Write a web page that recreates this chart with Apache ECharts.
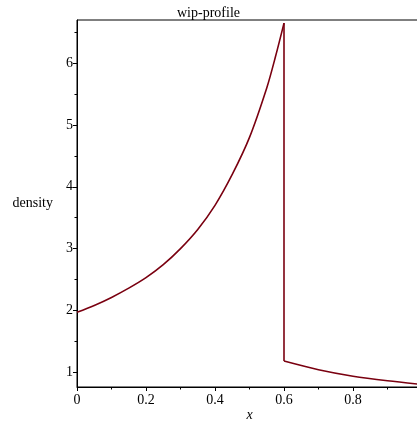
<!DOCTYPE html>
<html>
<head>
<meta charset="utf-8">
<script src="https://cdn.jsdelivr.net/npm/echarts@6/dist/echarts.min.js"></script>
<style>html,body{margin:0;padding:0;background:#fff}#c{width:417px;height:424px}</style>
</head>
<body>
<div id="c"></div>
<script>
const titleText = 'wip-profile';
const xName = 'x';
const yName = 'density';
const xLeft = [0, 0.05, 0.1, 0.15, 0.2, 0.25, 0.3, 0.35, 0.4, 0.45, 0.5, 0.55, 0.575, 0.6];
const yLeft = [1.97, 2.08, 2.21, 2.36, 2.53, 2.74, 3.00, 3.31, 3.70, 4.20, 4.80, 5.60, 6.10, 6.65];
const xRight = [0.6, 0.7, 0.8, 0.9, 1.0];
const yRight = [1.18, 1.04, 0.935, 0.86, 0.80];
const yMajorTicks = [1, 2, 3, 4, 5, 6];
const yMinorTicks = [1.5, 2.5, 3.5, 4.5, 5.5, 6.5];

const lineColor = '#7a0010';
const font = 'Liberation Serif';
const pair = (xs, ys) => xs.map((x, i) => [x, ys[i]]);
const leftData = pair(xLeft, yLeft);
const rightData = pair(xRight, yRight);
const jumpData = [leftData[leftData.length - 1], rightData[0]];

const chart = echarts.init(document.getElementById('c'), null, {renderer: 'canvas'});
const yBase = {
  type: 'value', min: 0.76, max: 6.70, position: 'left',
  splitLine: {show: false}
};
chart.setOption({
  animation: false,
  title: {
    text: titleText, left: 'center', top: 1,
    textStyle: {fontFamily: font, fontSize: 14, fontWeight: 'normal', color: '#000'}
  },
  grid: {left: 77, right: -5, top: 20, bottom: 37, outerBoundsMode: 'none', containLabel: false,
    show: true, borderColor: '#000', borderWidth: 1, backgroundColor: 'transparent'},
  xAxis: {
    type: 'value', min: 0, max: 1, interval: 0.2,
    name: xName, nameLocation: 'middle', nameGap: 21, nameMoveOverlap: false,
    nameTextStyle: {fontFamily: font, fontSize: 14, fontStyle: 'italic', color: '#000'},
    axisLine: {show: true, onZero: false, lineStyle: {color: '#000', width: 1}},
    axisTick: {show: true, inside: false, length: 4, lineStyle: {color: '#000'}},
    minorTick: {show: true, splitNumber: 2, length: 2.5, lineStyle: {color: '#000'}},
    axisLabel: {fontFamily: font, fontSize: 14, color: '#000', margin: 6, showMaxLabel: false},
    splitLine: {show: false}
  },
  yAxis: [
    Object.assign({}, yBase, {
      name: yName, nameLocation: 'middle', nameRotate: 0, nameGap: 24, nameMoveOverlap: false,
      nameTextStyle: {fontFamily: font, fontSize: 14, color: '#000', align: 'right'},
      axisLine: {show: true, onZero: false, lineStyle: {color: '#000', width: 1}},
      axisTick: {show: true, inside: false, length: 4, customValues: yMajorTicks, lineStyle: {color: '#000'}},
      axisLabel: {fontFamily: font, fontSize: 14, color: '#000', margin: 4, customValues: yMajorTicks}
    }),
    Object.assign({}, yBase, {
      axisLine: {show: false},
      axisTick: {show: true, inside: false, length: 2.5, customValues: yMinorTicks, lineStyle: {color: '#000'}},
      axisLabel: {show: false, customValues: yMinorTicks}
    })
  ],
  series: [
    {type: 'line', data: leftData, smooth: 0.3, showSymbol: false, lineStyle: {color: lineColor, width: 1.6}, clip: true},
    {type: 'line', data: jumpData, smooth: false, showSymbol: false, lineStyle: {color: lineColor, width: 1.6}, clip: true},
    {type: 'line', data: rightData, smooth: 0.3, showSymbol: false, lineStyle: {color: lineColor, width: 1.6}, clip: true}
  ]
});
</script>
</body>
</html>
